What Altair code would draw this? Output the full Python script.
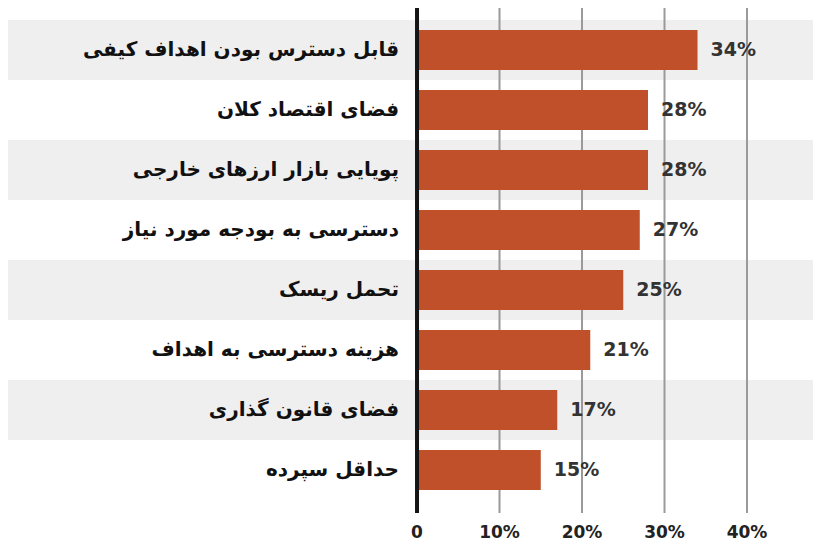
import altair as alt
import pandas as pd

categories = [
    "قابل دسترس بودن اهداف کیفی",
    "فضای اقتصاد کلان",
    "پویایی بازار ارزهای خارجی",
    "دسترسی به بودجه مورد نیاز",
    "تحمل ریسک",
    "هزینه دسترسی به اهداف",
    "فضای قانون گذاری",
    "حداقل سپرده",
]
values = [34, 28, 28, 27, 25, 21, 17, 15]
tick_values = [0, 10, 20, 30, 40]
tick_labels = ["0", "10%", "20%", "30%", "40%"]
grid_values = [10, 20, 30, 40]

W, H = 805, 505
XDOM = [-49.58, 48.0]
YDOM = [-0.7, 7.7167]

rows = list(range(len(categories)))
df = pd.DataFrame({
    "cat": categories,
    "val": values,
    "row": rows,
    "y0": [r - 0.335 for r in rows],
    "y1": [r + 0.335 for r in rows],
    "b0": [r - 0.5 for r in rows],
    "b1": [r + 0.5 for r in rows],
    "lbl": [f"{v}%" for v in values],
    "shade": [r % 2 == 0 for r in rows],
})
grid_df = pd.DataFrame({"g": grid_values})
zero_df = pd.DataFrame({"g": [0]})
tick_df = pd.DataFrame({"t": tick_values, "tl": tick_labels})

xs = alt.Scale(domain=XDOM, nice=False, zero=False)
ys = alt.Scale(domain=YDOM, nice=False, zero=False, reverse=True)

bands = alt.Chart(df).transform_filter("datum.shade").mark_rect(color="#efefef").encode(
    x=alt.value(0), x2=alt.value(W),
    y=alt.Y("b0:Q", scale=ys, axis=None), y2="b1:Q",
)

grid = alt.Chart(grid_df).mark_rule(color="#9a9a9a", strokeWidth=2).encode(
    x=alt.X("g:Q", scale=xs, axis=None),
    y=alt.value(0), y2=alt.value(H),
)

bars = alt.Chart(df).mark_rect(color="#bf5029").encode(
    x=alt.X("val:Q", scale=xs, axis=None),
    x2=alt.datum(0),
    y=alt.Y("y0:Q", scale=ys, axis=None), y2="y1:Q",
)

zero = alt.Chart(zero_df).mark_rule(color="#151515", strokeWidth=4).encode(
    x=alt.X("g:Q", scale=xs, axis=None),
    y=alt.value(0), y2=alt.value(H),
)

vlabels = alt.Chart(df).mark_text(
    align="left", baseline="middle", dx=13, font="DejaVu Sans",
    fontSize=19, fontWeight="bold", color="#333333",
).encode(
    x=alt.X("val:Q", scale=xs, axis=None),
    y=alt.Y("row:Q", scale=ys, axis=None),
    text="lbl:N",
)

clabels = alt.Chart(df).mark_text(
    align="right", baseline="middle", font="DejaVu Sans",
    fontSize=20, fontWeight="bold", color="#111111",
).encode(
    x=alt.value(391),
    y=alt.Y("row:Q", scale=ys, axis=None),
    text="cat:N",
)

tlabels = alt.Chart(tick_df).mark_text(
    align="center", baseline="middle", font="DejaVu Sans",
    fontSize=17, fontWeight="bold", color="#222222",
).encode(
    x=alt.X("t:Q", scale=xs, axis=None),
    y=alt.value(H + 20),
    text="tl:N",
)

chart = alt.layer(bands, grid, bars, zero, vlabels, clabels, tlabels).properties(
    width=W, height=H,
    autosize=alt.AutoSizeParams(type="none"),
    padding={"left": 0, "top": 0, "right": 0, "bottom": 34},
).configure_view(stroke=None)

chart.save("out.html", embed_options={"renderer": "svg", "actions": False})
